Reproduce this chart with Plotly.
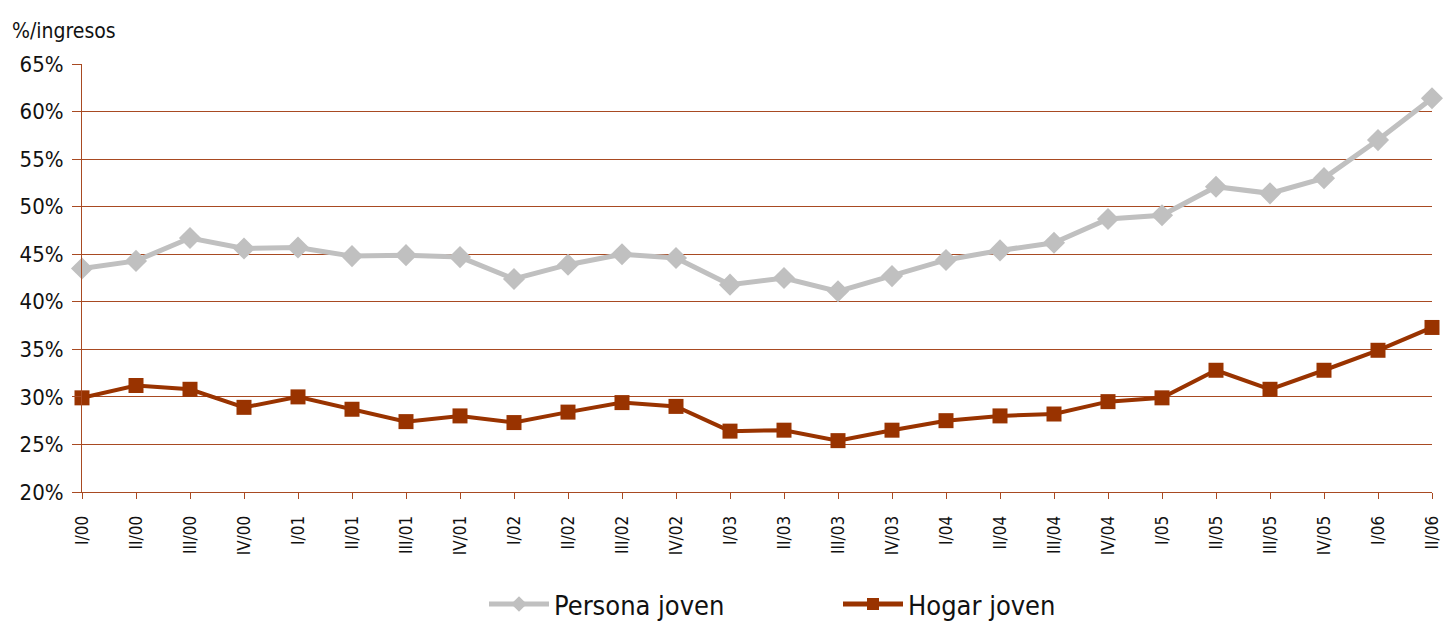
import plotly.graph_objects as go

categories = ["I/00", "II/00", "III/00", "IV/00", "I/01", "II/01", "III/01", "IV/01",
              "I/02", "II/02", "III/02", "IV/02", "I/03", "II/03", "III/03", "IV/03",
              "I/04", "II/04", "III/04", "IV/04", "I/05", "II/05", "III/05", "IV/05",
              "I/06", "II/06"]
persona_joven = [43.5, 44.3, 46.7, 45.6, 45.7, 44.8, 44.9, 44.7,
                 42.4, 43.9, 45.0, 44.6, 41.8, 42.5, 41.1, 42.7,
                 44.4, 45.4, 46.2, 48.7, 49.1, 52.1, 51.4, 53.0,
                 57.0, 61.4]
hogar_joven = [29.9, 31.2, 30.8, 28.9, 30.0, 28.7, 27.4, 28.0,
               27.3, 28.4, 29.4, 29.0, 26.4, 26.5, 25.4, 26.5,
               27.5, 28.0, 28.2, 29.5, 29.9, 32.8, 30.8, 32.8,
               34.9, 37.3]
y_ticks = [20, 25, 30, 35, 40, 45, 50, 55, 60, 65]

FONT = "Liberation Sans Narrow, Arial Narrow, DejaVu Sans Condensed, sans-serif"
GRID = "#A84A22"

fig = go.Figure()
fig.add_trace(go.Scatter(
    x=categories, y=persona_joven, name="Persona joven", mode="lines+markers",
    line=dict(color="#C0C0C0", width=5),
    marker=dict(symbol="diamond", size=17, color="#C0C0C0"),
    cliponaxis=False,
))
fig.add_trace(go.Scatter(
    x=categories, y=hogar_joven, name="Hogar joven", mode="lines+markers",
    line=dict(color="#993300", width=4),
    marker=dict(symbol="square", size=15, color="#993300"),
    cliponaxis=False,
))

fig.update_layout(
    width=1443, height=623,
    margin=dict(l=82, r=11, t=64, b=131, autoexpand=False),
    paper_bgcolor="white", plot_bgcolor="white",
    font=dict(family=FONT, color="#111111"),
    showlegend=True,
    legend=dict(orientation="h", x=0.56, xanchor="center", y=-0.32, yanchor="bottom",
                font=dict(size=27, family=FONT), itemwidth=60, entrywidth=279,
                itemsizing="constant"),
    annotations=[dict(text="%/ingresos", xref="paper", yref="paper", x=-0.053, y=1.044,
                      xanchor="left", yanchor="bottom", showarrow=False,
                      font=dict(size=21, family=FONT))],
)
fig.update_xaxes(
    type="category", categoryorder="array", categoryarray=categories,
    range=[0, len(categories) - 1], automargin=False,
    tickangle=-90, tickfont=dict(size=17, family=FONT), ticklabelstandoff=10,
    showgrid=False, showline=True, linecolor=GRID, linewidth=1,
    ticks="outside", ticklen=6, tickcolor=GRID,
)
fig.update_yaxes(
    range=[20, 65], tickvals=y_ticks, ticktext=[f"{v}%" for v in y_ticks],
    tickfont=dict(size=22, family=FONT), automargin=False, ticklabelstandoff=4,
    showgrid=True, gridcolor=GRID, gridwidth=1,
    showline=True, linecolor=GRID, linewidth=1,
    ticks="outside", ticklen=9, tickcolor=GRID, zeroline=False,
)

fig.write_html("out.html", config={"displayModeBar": False},
               post_script="document.body.style.margin='0';document.body.style.overflow='hidden';")
